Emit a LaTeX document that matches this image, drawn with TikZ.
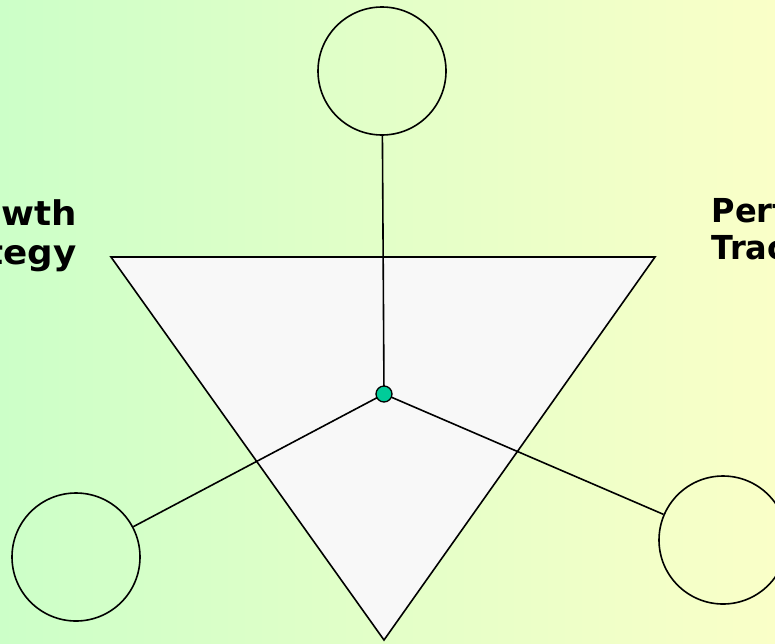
\documentclass[tikz,border=0pt]{standalone}
\usepackage{fontspec}
\setmainfont{DejaVu Sans}
\newfontfamily\widelabelfont[FakeStretch=1.05]{DejaVu Sans}
\newfontfamily\narrowlabelfont[FakeStretch=0.97]{DejaVu Sans}
\definecolor{bgleft}{RGB}{204,255,200}
\definecolor{bgright}{RGB}{250,255,200}
\definecolor{trifill}{RGB}{248,248,248}
\definecolor{dotgreen}{RGB}{0,204,153}
\tikzset{
  ring/.style={circle, draw=black, line width=1.6pt, minimum size=128pt, inner sep=0pt},
  spoke/.style={draw=black, line width=1.6pt},
  label/.style={inner sep=0pt, text=black},
  hub/.style={circle, draw=black, line width=1.3pt, fill=dotgreen, minimum size=16pt, inner sep=0pt}
}
\begin{document}
\begin{tikzpicture}[x=1pt,y=-1pt]
\useasboundingbox (0,0) rectangle (775,643);
\clip (0,0) rectangle (775,643);
\shade[left color=bgleft, right color=bgright] (0,0) rectangle (775,643);
\coordinate (t1) at (111,257);
\coordinate (t2) at (655,257);
\coordinate (t3) at (384,640);
\draw[fill=trifill, line width=1.6pt, line join=miter] (t1) -- (t2) -- (t3) -- cycle;
\node[ring] (ctop) at (382,71) {};
\node[ring] (cleft) at (76,557) {};
\node[ring] (cright) at (723,540) {};
\coordinate (hubc) at (384,394);
\draw[spoke] (hubc) -- (ctop);
\draw[spoke] (hubc) -- (cleft);
\draw[spoke] (hubc) -- (cright);
\node[hub] (hub) at (hubc) {};
\node[label, font=\widelabelfont\fontsize{34}{38.5}\selectfont\bfseries, align=right, anchor=north east] (growth) at (77,199.8) {Growth\\Strategy};
\node[label, font=\narrowlabelfont\fontsize{33}{37}\selectfont\bfseries, align=left, anchor=north west] (perf) at (711.5,197.2) {Performance\\Tracking};
\end{tikzpicture}
\end{document}
